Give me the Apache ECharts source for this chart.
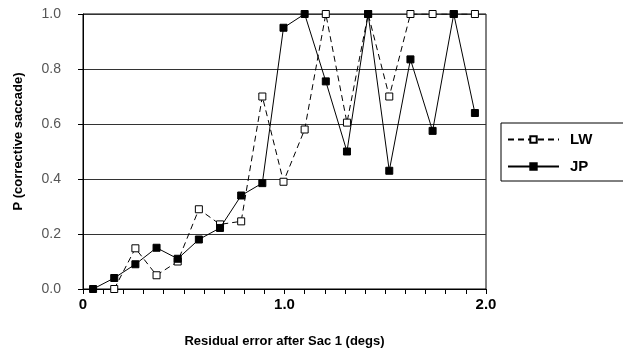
<!DOCTYPE html>
<html>
<head>
<meta charset="utf-8">
<script src="https://cdn.jsdelivr.net/npm/echarts@6/dist/echarts.min.js"></script>
<style>
  html, body { margin: 0; padding: 0; background: #fff; }
  #chart { width: 623px; height: 356px; }
</style>
</head>
<body>
<div id="chart"></div>
<script>
// residual error (degs) bin positions and P(corrective saccade)
var lwX = [0.155, 0.26, 0.365, 0.47, 0.575, 0.68, 0.785, 0.89, 0.995, 1.1, 1.205, 1.31, 1.415, 1.52, 1.625, 1.735, 1.84, 1.945];
var lwY = [0.0, 0.148, 0.05, 0.10, 0.29, 0.235, 0.246, 0.70, 0.39, 0.58, 1.0, 0.605, 1.0, 0.70, 1.0, 1.0, 1.0, 1.0];
var jpX = [0.05, 0.155, 0.26, 0.365, 0.47, 0.575, 0.68, 0.785, 0.89, 0.995, 1.1, 1.205, 1.31, 1.415, 1.52, 1.625, 1.735, 1.84, 1.945];
var jpY = [0.0, 0.04, 0.09, 0.15, 0.11, 0.18, 0.222, 0.34, 0.385, 0.95, 1.0, 0.755, 0.50, 1.0, 0.43, 0.835, 0.575, 1.0, 0.64];
var xTickLabels = { 0: '0', 1: '1.0', 2: '2.0' };

function pairs (xs, ys) {
  return xs.map(function (x, i) { return [x, ys[i]]; });
}

var font = "'Liberation Sans', Arial, sans-serif";
var chart = echarts.init(document.getElementById('chart'));
chart.setOption({
  animation: false,
  backgroundColor: '#fff',
  textStyle: { fontFamily: font },
  grid: {
    left: 83, right: 137, top: 14, bottom: 67,
    show: true, borderColor: '#000', borderWidth: 1
  },
  legend: {
    orient: 'vertical',
    left: 501, top: 123,
    borderColor: '#000', borderWidth: 1,
    padding: [9, 40, 7, 6],
    itemWidth: 51, itemHeight: 8, itemGap: 12,
    textStyle: { fontSize: 15, fontWeight: 'bold', color: '#000', fontFamily: font, padding: [0, 0, 0, 6] },
    data: ['LW', 'JP']
  },
  xAxis: {
    type: 'value',
    min: 0, max: 2, interval: 0.1,
    name: 'Residual error after Sac 1 (degs)',
    nameLocation: 'middle', nameGap: 46,
    nameTextStyle: { fontSize: 13, fontWeight: 'bold', color: '#000', fontFamily: font },
    axisLine: { lineStyle: { color: '#000', width: 1 } },
    axisTick: { show: true, length: 5, lineStyle: { color: '#000' } },
    axisLabel: {
      fontSize: 15, fontWeight: 'bold', color: '#000', margin: 8, showMaxLabel: true,
      formatter: function (v) {
        var r = Math.round(v * 10) / 10;
        return xTickLabels[r] !== undefined && Math.abs(r - Math.round(r)) < 1e-6 ? xTickLabels[r] : '';
      }
    },
    splitLine: { show: false }
  },
  yAxis: {
    type: 'value',
    min: 0, max: 1, interval: 0.2,
    name: 'P (corrective saccade)',
    nameLocation: 'middle', nameGap: 58,
    nameTextStyle: { fontSize: 13, fontWeight: 'bold', color: '#000', fontFamily: font, padding: [0, 0, 0, 20] },
    axisLine: { lineStyle: { color: '#000', width: 1 } },
    axisTick: { show: true, length: 5, lineStyle: { color: '#000' } },
    axisLabel: {
      fontSize: 14, color: '#555', margin: 22,
      formatter: function (v) { return v.toFixed(1); }
    },
    splitLine: { show: true, lineStyle: { color: '#333', width: 1 } }
  },
  series: [
    {
      name: 'LW',
      type: 'line',
      data: pairs(lwX, lwY),
      symbol: 'rect', symbolSize: 7,
      itemStyle: { color: '#fff', borderColor: '#000', borderWidth: 1 },
      lineStyle: { color: '#000', width: 1, type: [6, 4] },
      z: 2
    },
    {
      name: 'JP',
      type: 'line',
      data: pairs(jpX, jpY),
      symbol: 'rect', symbolSize: 7,
      itemStyle: { color: '#000', borderColor: '#000', borderWidth: 1 },
      lineStyle: { color: '#000', width: 1 },
      z: 3
    }
  ]
});
</script>
</body>
</html>
